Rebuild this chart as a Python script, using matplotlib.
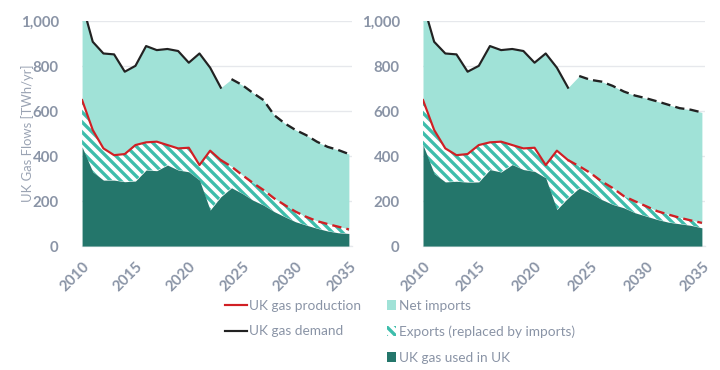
import numpy as np
import matplotlib
matplotlib.use("Agg")
import matplotlib.pyplot as plt
from matplotlib.lines import Line2D
from matplotlib.patches import Patch

plt.rcParams["font.family"] = ["Lato", "DejaVu Sans"]
plt.rcParams["hatch.linewidth"] = 2.0
plt.rcParams["hatch.color"] = "#3dbdab"
HATCH = chr(92) * 4

# Data (TWh/yr)
years = np.arange(2010, 2036)
hist_end = 2023

demand_left = [1080, 908, 856, 852, 775, 801, 889, 871, 876, 867, 815, 856, 793, 704,
               742, 716, 681, 649, 582, 545, 516, 493, 464, 441, 427, 409]
production_left = [649, 516, 434, 404, 409, 449, 461, 464, 449, 434, 437, 360, 424, 382,
                   353, 316, 281, 249, 212, 182, 153, 130, 111, 98, 86, 74]
used_left = [441, 330, 293, 293, 286, 289, 338, 335, 360, 338, 330, 293, 160, 219,
             259, 234, 204, 182, 153, 130, 108, 93, 79, 67, 59, 56]

demand_right = [1080, 908, 856, 852, 775, 801, 889, 871, 876, 867, 815, 856, 793, 704,
                756, 739, 731, 712, 687, 669, 657, 643, 628, 613, 606, 594]
production_right = [649, 516, 434, 404, 409, 449, 461, 464, 449, 434, 437, 360, 424, 382,
                    355, 325, 288, 258, 222, 199, 177, 155, 140, 126, 114, 103]
used_right = [450, 322, 285, 288, 284, 285, 340, 329, 362, 340, 332, 303, 162, 214,
              258, 236, 207, 185, 170, 148, 133, 118, 106, 99, 92, 81]

panels = [(demand_left, production_left, used_left),
          (demand_right, production_right, used_right)]

c_imports = "#a0e2d7"
c_used = "#24766b"
c_red = "#d11f24"
c_black = "#222222"
c_text = "#8a94a6"

fig = plt.figure(figsize=(6, 370 / 120), dpi=120)
axes = [fig.add_axes([0.114, 0.335, 0.375, 0.608]),
        fig.add_axes([0.5875, 0.335, 0.392, 0.608])]

for ax, (dem, prod, used) in zip(axes, panels):
    dem = np.array(dem, dtype=float)
    prod = np.array(prod, dtype=float)
    used = np.array(used, dtype=float)

    ax.fill_between(years, prod, dem, color=c_imports, linewidth=0, zorder=1)
    ax.fill_between(years, used, prod, facecolor="white", edgecolor="#3dbdab",
                    hatch=HATCH, linewidth=0, zorder=2)
    ax.fill_between(years, 0, used, color=c_used, linewidth=0, zorder=3)

    h = years <= hist_end
    ax.plot(years[h], dem[h], color=c_black, lw=1.3, zorder=5)
    ax.plot(years[years >= hist_end + 1], dem[years >= hist_end + 1], color=c_black,
            lw=1.4, ls=(0, (4, 2.2)), zorder=5)
    ax.plot(years[h], prod[h], color=c_red, lw=1.3, zorder=5)
    ax.plot(years[years >= hist_end], prod[years >= hist_end], color=c_red,
            lw=1.4, ls=(0, (4, 2.2)), zorder=5)

    ax.set_xlim(2010, 2035.3)
    ax.set_ylim(0, 1000)
    ax.set_xticks(np.arange(2010, 2036, 5))
    ax.set_xticklabels([str(y) for y in range(2010, 2036, 5)], rotation=45,
                       ha="right", rotation_mode="anchor")
    ax.set_yticks(np.arange(0, 1001, 200))
    ax.set_yticklabels([f"{v:,}" for v in range(0, 1001, 200)])
    ax.tick_params(length=0, colors=c_text, labelsize=9)
    ax.tick_params(axis="y", pad=14)
    ax.tick_params(axis="x", pad=8)
    for lab in ax.get_xticklabels() + ax.get_yticklabels():
        lab.set_fontweight("bold")
    ax.grid(axis="y", color="#e6e8ec", lw=0.8, zorder=0)
    ax.set_axisbelow(True)
    for s in ["top", "right", "left"]:
        ax.spines[s].set_visible(False)
    ax.spines["bottom"].set_color("#e6e8ec")
    ax.spines["bottom"].set_zorder(0)

axes[0].set_ylabel("UK Gas Flows [TWh/yr]", color="#9aa3b3", fontsize=7.8)
axes[0].yaxis.set_label_coords(-0.178, 0.5)

line_handles = [Line2D([], [], color=c_red, lw=1.3),
                Line2D([], [], color=c_black, lw=1.3)]
fig.legend(line_handles, ["UK gas production", "UK gas demand"],
           loc="upper left", bbox_to_anchor=(0.313, 0.19), frameon=False,
           fontsize=8.2, labelcolor=c_text, handlelength=1.6, handletextpad=0.1,
           labelspacing=1.0, borderpad=0, borderaxespad=0)

patch_handles = [Patch(facecolor=c_imports, edgecolor="none"),
                 Patch(facecolor="white", edgecolor="#3dbdab", hatch=HATCH, lw=0),
                 Patch(facecolor=c_used, edgecolor="none")]
fig.legend(patch_handles, ["Net imports", "Exports (replaced by imports)", "UK gas used in UK"],
           loc="upper left", bbox_to_anchor=(0.537, 0.19), frameon=False,
           fontsize=8.2, labelcolor=c_text, handlelength=0.7, handleheight=0.7,
           handletextpad=0.2, labelspacing=1.0, borderpad=0, borderaxespad=0)

fig.savefig("out.png", dpi=120)
